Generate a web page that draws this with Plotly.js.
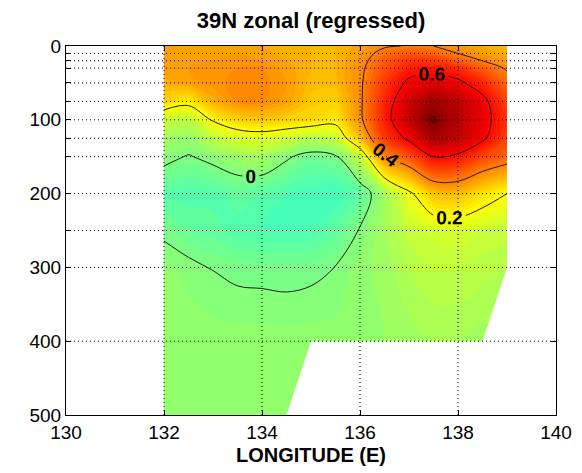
<!DOCTYPE html>
<html><head><meta charset="utf-8">
<script src="https://cdn.plot.ly/plotly-3.0.1.min.js"></script>
<style>html,body{margin:0;padding:0;background:#fff}#chart{width:582px;height:473px}</style>
</head><body><div id="chart"></div>
<script>
// ---- data ----
const longitude = [132,132.5,133,133.5,134,134.5,135,135.5,136,136.5,137,137.5,138,138.5,139];
const depth = [0,10,20,30,50,75,100,125,150,200,250,300,400,500];
const regressed = [
  [0.34,0.35,0.35,0.35,0.34,0.33,0.32,0.32,0.35,0.39,0.405,0.40,0.37,0.34,0.31],
  [0.35,0.35,0.36,0.36,0.35,0.33,0.32,0.32,0.36,0.43,0.47,0.45,0.40,0.36,0.33],
  [0.35,0.35,0.36,0.37,0.36,0.34,0.32,0.32,0.37,0.46,0.52,0.52,0.46,0.40,0.36],
  [0.35,0.36,0.37,0.38,0.38,0.35,0.32,0.32,0.38,0.48,0.56,0.57,0.54,0.46,0.39],
  [0.33,0.35,0.37,0.39,0.39,0.36,0.31,0.31,0.385,0.52,0.62,0.65,0.62,0.55,0.44],
  [0.27,0.23,0.33,0.38,0.385,0.35,0.29,0.28,0.385,0.55,0.68,0.76,0.71,0.63,0.50],
  [0.12,0.10,0.21,0.27,0.29,0.27,0.26,0.23,0.38,0.56,0.70,0.81,0.72,0.64,0.53],
  [0.06,0.04,0.10,0.14,0.15,0.13,0.09,0.12,0.30,0.52,0.62,0.75,0.70,0.62,0.50],
  [0.02,-0.005,0.02,0.05,0.06,0.01,-0.03,-0.01,0.12,0.39,0.48,0.60,0.58,0.50,0.45],
  [-0.06,-0.07,-0.07,-0.05,-0.06,-0.08,-0.09,-0.10,-0.05,0.06,0.18,0.30,0.31,0.25,0.20],
  [-0.01,-0.04,-0.05,-0.07,-0.08,-0.08,-0.08,-0.05,0.005,0.06,0.11,0.13,0.14,0.12,0.11],
  [0.025,0.015,-0.002,-0.01,-0.012,-0.015,-0.01,0.001,0.03,0.05,0.08,0.10,0.10,0.09,0.08],
  [0.03,0.03,0.03,0.03,0.03,0.03,0.03,0.03,0.035,0.04,0.05,0.06,0.06,0.05,null],
  [0.03,0.03,0.03,0.03,0.03,0.03,null,null,null,null,null,null,null,null,null]
];
const xTickVals = [130,132,134,136,138,140];
const xTickLabels = ['130','132','134','136','138','140'];
const yTickVals = [0,10,20,30,50,75,100,125,150,200,250,300,400,500];
const yTickLabels = ['0','','','','','','100','','','200','','300','400','500'];
const lineLevels = {start:0, end:0.8, size:0.2};
const titleText = '39N zonal (regressed)';
const xTitleText = 'LONGITUDE (E)';

// ---- styling ----
const FONT = 'Liberation Sans, Arial, Helvetica, sans-serif';
const jet = [[0,'rgb(0,0,143)'],[0.125,'rgb(0,0,255)'],[0.375,'rgb(0,255,255)'],
             [0.625,'rgb(255,255,0)'],[0.875,'rgb(255,0,0)'],[1,'rgb(128,0,0)']];
const xRange = [130,140], yRange = [500,0];

// mask polygon for missing data (derived from null positions)
const n = longitude.length;
const lastValid = regressed.map(row => { let L=-1; row.forEach((v,i)=>{ if(v!==null) L=i; }); return L; });
const maskX=[], maskY=[];
for (let r=0; r<depth.length-1; r++) {
  const Lr = lastValid[r], Ln = lastValid[r+1];
  if (Ln < Lr) {
    if (!maskX.length) { maskX.push(longitude[Lr]); maskY.push(depth[r]); }
    maskX.push(longitude[Ln+1]); maskY.push(depth[r]);
    maskX.push(longitude[Ln]); maskY.push(depth[r+1]);
  }
}
if (maskX.length) { maskX.push(longitude[n-1]); maskY.push(depth[depth.length-1]); }

const traces = [
  {type:'contour', x:longitude, y:depth, z:regressed, colorscale:jet, showscale:false,
   autocontour:false, contours:{start:-0.8, end:0.8, size:0.02, coloring:'fill', showlines:false},
   line:{width:0}, hoverinfo:'skip'},
  {type:'scatter', x:maskX, y:maskY, fill:'toself', fillcolor:'#ffffff', mode:'lines',
   line:{width:0, color:'rgba(0,0,0,0)'}, hoverinfo:'skip', showlegend:false},
  {type:'contour', x:longitude, y:depth, z:regressed, showscale:false, autocontour:false,
   contours:{start:lineLevels.start, end:lineLevels.end, size:lineLevels.size, coloring:'none',
             showlabels:true, labelfont:{family:FONT, size:19, color:'#000', weight:'bold'}},
   line:{color:'#1a1a1a', width:1}, hoverinfo:'skip'}
];

const shapes = [];
const dotted = {color:'#000', width:1, dash:'1px,3px'};
xTickVals.filter(v => v>Math.min(...xRange) && v<Math.max(...xRange)).forEach(v =>
  shapes.push({type:'line', xref:'x', yref:'paper', x0:v, x1:v, y0:0, y1:1, line:dotted, layer:'above'}));
yTickVals.filter(v => v>Math.min(...yRange) && v<Math.max(...yRange)).forEach(v =>
  shapes.push({type:'line', xref:'paper', yref:'y', x0:0, x1:1, y0:v, y1:v, line:dotted, layer:'above'}));

const layout = {
  width:582, height:473,
  margin:{l:66, r:26, t:46, b:58},
  paper_bgcolor:'#fff', plot_bgcolor:'#fff',
  font:{family:FONT, size:19, color:'#000'},
  title:{text:titleText, font:{family:FONT, size:22, color:'#000', weight:'bold'}, x:0.5, xref:'paper', xanchor:'center', y:0.957, yanchor:'middle'},
  xaxis:{range:xRange, tickvals:xTickVals, ticktext:xTickLabels, ticks:'inside', ticklen:5, tickcolor:'#000',
         showline:true, linecolor:'#000', linewidth:1, mirror:'ticks', showgrid:false, zeroline:false,
         tickfont:{size:19}, title:{text:xTitleText, font:{size:20, weight:'bold'}, standoff:6}},
  yaxis:{range:yRange, tickvals:yTickVals, ticktext:yTickLabels, ticks:'inside', ticklen:5, tickcolor:'#000',
         showline:true, linecolor:'#000', linewidth:1, mirror:'ticks', showgrid:false, zeroline:false,
         tickfont:{size:19}},
  shapes:shapes, showlegend:false
};
Plotly.newPlot('chart', traces, layout, {staticPlot:true, displayModeBar:false});
</script></body></html>
